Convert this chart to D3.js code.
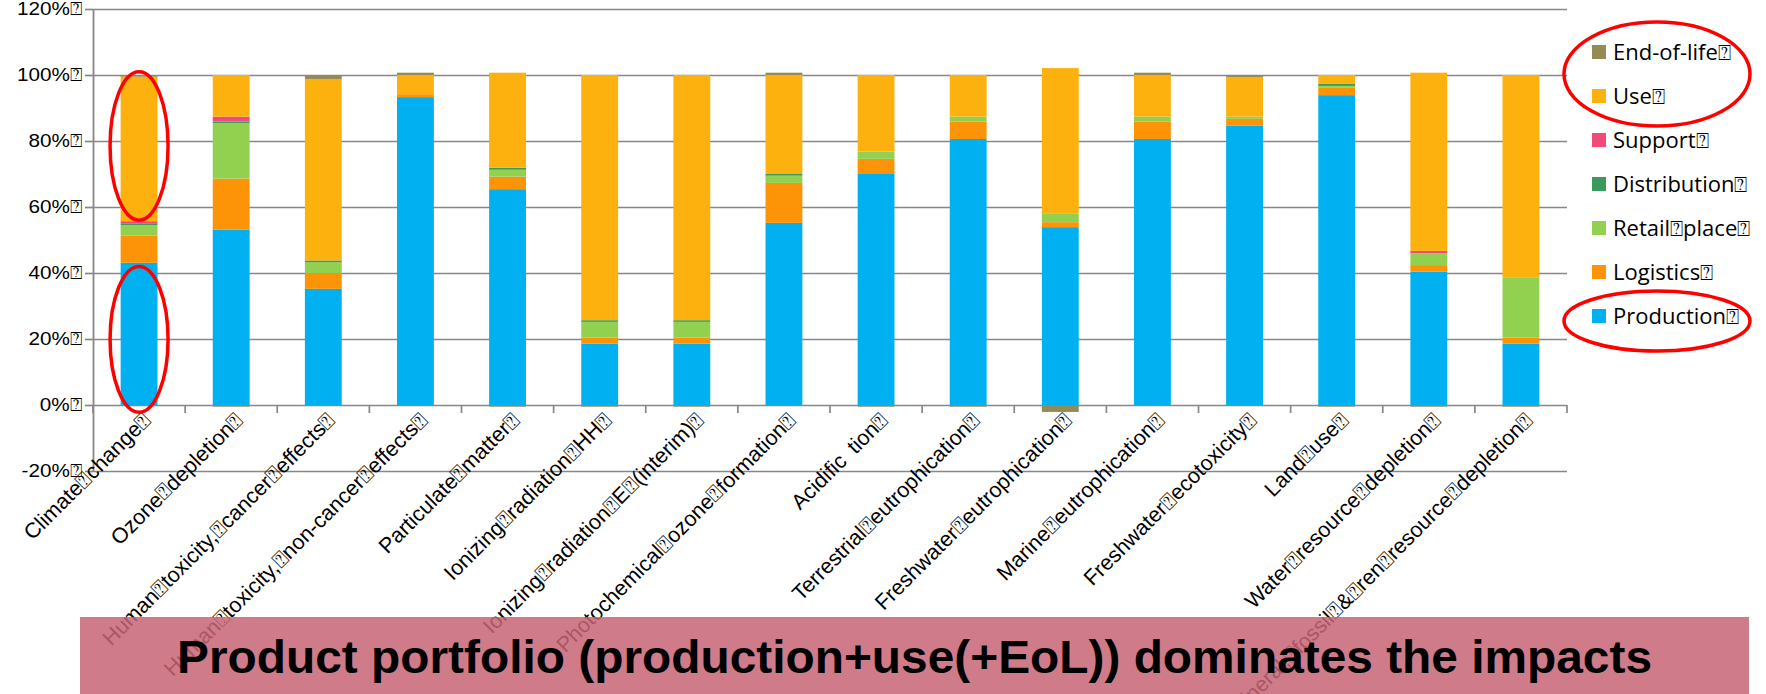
<!DOCTYPE html>
<html>
<head>
<meta charset="utf-8">
<script src="https://cdn.jsdelivr.net/npm/d3@7"></script>
<style>
  body { margin: 0; background: #fff; }
  svg { display: block; font-family: "Open Sans", "DejaVu Sans", sans-serif; font-variant-numeric: oldstyle-nums; }
</style>
</head>
<body>
<svg id="chart" width="1766" height="694"></svg>
<script>
const B = '\u2370';

const categories = [
  'Climate' + B + 'change' + B,
  'Ozone' + B + 'depletion' + B,
  'Human' + B + 'toxicity,' + B + 'cancer' + B + 'effects' + B,
  'Human' + B + 'toxicity,' + B + 'non-cancer' + B + 'effects' + B,
  'Particulate' + B + 'matter' + B,
  'Ionizing' + B + 'radiation' + B + 'HH' + B,
  'Ionizing' + B + 'radiation' + B + 'E' + B + '(interim)' + B,
  'Photochemical' + B + 'ozone' + B + 'formation' + B,
  'Acidific\u2002tion' + B,
  'Terrestrial' + B + 'eutrophication' + B,
  'Freshwater' + B + 'eutrophication' + B,
  'Marine' + B + 'eutrophication' + B,
  'Freshwater' + B + 'ecotoxicity' + B,
  'Land' + B + 'use' + B,
  'Water' + B + 'resource' + B + 'depletion' + B,
  'Mineral,' + B + 'fossil' + B + '&' + B + 'ren' + B + 'resource' + B + 'depletion' + B
];

// shares in %
const production   = [43.1, 53.2, 35.2, 93.3, 65.4, 18.6, 18.6, 55.2, 70.0, 80.6, 53.9, 80.6, 84.6, 93.9, 40.4, 18.6];
const logistics    = [8.2, 15.4, 4.7, 0.9, 3.8, 1.8, 1.8, 12.1, 4.6, 5.3, 1.5, 5.3, 2.1, 2.2, 2.0, 1.8];
const retailPlace  = [3.2, 16.8, 3.4, 0, 2.1, 4.8, 4.8, 2.2, 2.2, 1.5, 2.7, 1.5, 0.7, 0.6, 3.6, 18.3];
const distribution = [0.4, 0.5, 0.5, 0, 0.6, 0.5, 0.5, 0.5, 0, 0, 0, 0, 0, 0.6, 0, 0];
const support      = [0.8, 1.5, 0, 0, 0, 0, 0, 0, 0, 0, 0, 0, 0, 0, 0.7, 0];
const use          = [43.8, 12.6, 55.0, 5.8, 28.8, 74.3, 74.3, 30.0, 23.2, 12.6, 44.0, 12.6, 12.0, 2.7, 54.0, 61.3];
const endOfLife    = [0.5, -0.5, 1.2, 0.7, -0.5, -0.5, -0.5, 0.7, -0.5, -0.5, -2.1, 0.7, 0.6, -0.5, -0.5, -0.5];

const seriesNames = ['Production', 'Logistics', 'Retail place', 'Distribution', 'Support', 'Use', 'End-of-life'];
const seriesValues = [production, logistics, retailPlace, distribution, support, use, endOfLife];
const seriesColors = ['#00b0f0', '#fd9307', '#92d050', '#3a9a5c', '#f24a78', '#fcb10f', '#948a54'];
const legendLabels = ['Production' + B, 'Logistics' + B, 'Retail' + B + 'place' + B, 'Distribution' + B, 'Support' + B, 'Use' + B, 'End-of-life' + B];

const yTicks = [-20, 0, 20, 40, 60, 80, 100, 120];

const title = 'Product portfolio (production+use(+EoL)) dominates the impacts';

const plotLeft = 93, plotRight = 1567, plotTop = 9, plotBottom = 471;

const rows = categories.map((c, i) => {
  const r = { category: c };
  seriesNames.forEach((s, j) => r[s] = seriesValues[j][i]);
  return r;
});

const stack = d3.stack().keys(seriesNames).offset(d3.stackOffsetDiverging);
const stacked = stack(rows);

const x = d3.scaleBand()
  .domain(categories)
  .range([plotLeft, plotRight])
  .paddingInner(0.6)
  .paddingOuter(0.3);

const y = d3.scaleLinear()
  .domain([-20, 120])
  .range([plotBottom, plotTop]);

const color = d3.scaleOrdinal().domain(seriesNames).range(seriesColors);

const svg = d3.select('#chart');

// gridlines
svg.append('g')
  .attr('transform', 'translate(' + plotLeft + ',0)')
  .call(d3.axisLeft(y).tickValues(yTicks).tickSize(-(plotRight - plotLeft)).tickFormat(''))
  .call(g => g.select('.domain').remove())
  .call(g => g.selectAll('line').attr('stroke', '#878787').attr('stroke-width', 1.7));

// y axis with labels
const yAxis = svg.append('g')
  .attr('transform', 'translate(' + plotLeft + ',0)')
  .call(d3.axisLeft(y).tickValues(yTicks).tickSize(8).tickSizeOuter(0).tickPadding(2).tickFormat(d => d + '%' + B));
yAxis.select('.domain').attr('stroke', '#878787').attr('stroke-width', 1.8);
yAxis.selectAll('line').attr('stroke', '#878787').attr('stroke-width', 1.7);
yAxis.selectAll('text')
  .attr('font-size', 18)
  .attr('fill', '#000')
  .attr('transform', 'scale(1.15,1)');

// bars
svg.append('g')
  .selectAll('g')
  .data(stacked)
  .enter()
  .append('g')
  .attr('fill', d => color(d.key))
  .selectAll('rect')
  .data(d => d)
  .enter()
  .append('rect')
  .attr('x', d => x(d.data.category))
  .attr('y', d => y(Math.max(d[0], d[1])))
  .attr('width', x.bandwidth())
  .attr('height', d => Math.abs(y(d[0]) - y(d[1])));

// category boundary ticks below the zero line
const gap = x.step() - x.bandwidth();
const bounds = categories.map(c => x(c) - gap / 2).concat([x.range()[1]]);
svg.append('g')
  .selectAll('line')
  .data(bounds)
  .enter()
  .append('line')
  .attr('x1', d => d)
  .attr('x2', d => d)
  .attr('y1', y(0))
  .attr('y2', y(0) + 8)
  .attr('stroke', '#878787')
  .attr('stroke-width', 1.7);

// category labels
const xAxis = svg.append('g')
  .attr('transform', 'translate(0,' + y(0) + ')')
  .call(d3.axisBottom(x).tickSize(0).tickPadding(0));
xAxis.select('.domain').remove();
xAxis.selectAll('text')
  .attr('font-size', 21.5)
  .attr('fill', '#000')
  .attr('y', 0)
  .attr('dy', '0.35em')
  .attr('text-anchor', 'end')
  .attr('transform', 'translate(8,11) rotate(-45)');

// legend
const legend = svg.append('g')
  .selectAll('g')
  .data(seriesNames.slice().reverse())
  .enter()
  .append('g')
  .attr('transform', (d, i) => 'translate(1592,' + (52 + i * 44) + ')');
legend.append('rect')
  .attr('x', 0)
  .attr('y', -7)
  .attr('width', 14)
  .attr('height', 14)
  .attr('fill', d => color(d));
legend.append('text')
  .attr('x', 21)
  .attr('dy', '0.35em')
  .attr('font-size', 22)
  .attr('fill', '#000')
  .text(d => legendLabels[seriesNames.indexOf(d)]);

// red highlight ellipses
const cx0 = x(categories[0]) + x.bandwidth() / 2;
const marks = [
  { cx: cx0, hi: 101, lo: 56, rx: 29 },
  { cx: cx0, hi: 42, lo: -2.2, rx: 29 }
];
svg.append('g')
  .selectAll('ellipse')
  .data(marks)
  .enter()
  .append('ellipse')
  .attr('cx', d => d.cx)
  .attr('cy', d => (y(d.hi) + y(d.lo)) / 2)
  .attr('rx', d => d.rx)
  .attr('ry', d => (y(d.lo) - y(d.hi)) / 2)
  .attr('fill', 'none')
  .attr('stroke', '#ff0000')
  .attr('stroke-width', 3.5);

svg.append('ellipse')
  .attr('cx', 1657).attr('cy', 74).attr('rx', 93).attr('ry', 52)
  .attr('fill', 'none').attr('stroke', '#ff0000').attr('stroke-width', 3.5);
svg.append('ellipse')
  .attr('cx', 1657).attr('cy', 321).attr('rx', 93).attr('ry', 30)
  .attr('fill', 'none').attr('stroke', '#ff0000').attr('stroke-width', 3.5);

// banner
svg.append('rect')
  .attr('x', 80)
  .attr('y', 617)
  .attr('width', 1669)
  .attr('height', 77)
  .attr('fill', 'rgb(200,100,118)')
  .attr('fill-opacity', 0.85);

svg.append('text')
  .attr('x', 177)
  .attr('y', 673)
  .attr('font-family', '"Liberation Sans", Arial, sans-serif')
  .attr('font-weight', 'bold')
  .attr('font-size', 47)
  .attr('textLength', 1475)
  .attr('lengthAdjust', 'spacingAndGlyphs')
  .attr('fill', '#000')
  .text(title);
</script>
</body>
</html>
